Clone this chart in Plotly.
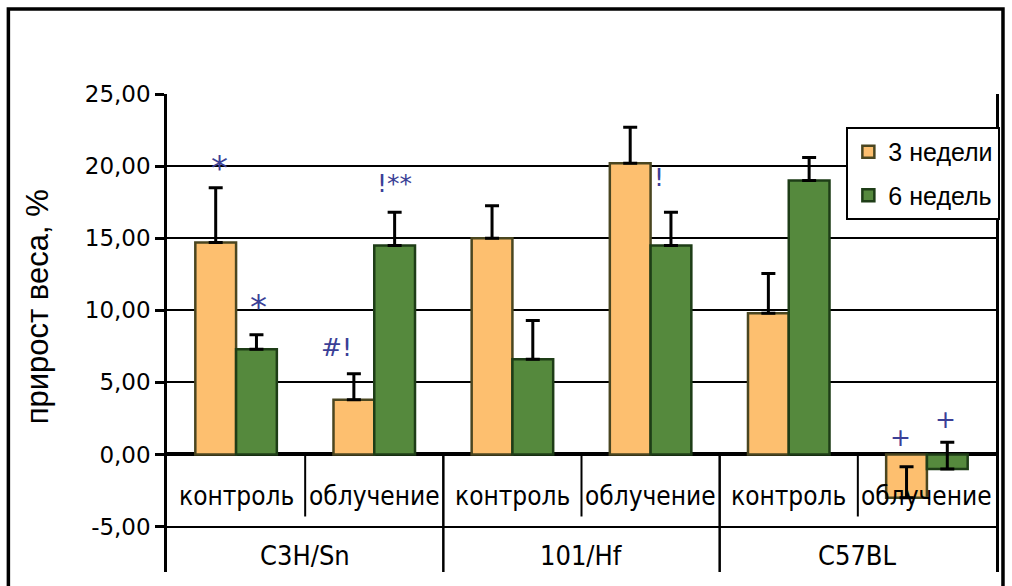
import plotly.graph_objects as go

# ---- data ----
groups = ["C3H/Sn", "101/Hf", "C57BL"]
treatments = ["контроль", "облучение"]
series_names = ["3 недели", "6 недель"]
weeks3 = [14.7, 3.8, 15.0, 20.2, 9.8, -3.0]
weeks3_err = [3.8, 1.8, 2.25, 2.5, 2.75, 2.15]
weeks6 = [7.3, 14.5, 6.6, 14.5, 19.0, -1.0]
weeks6_err = [1.0, 2.3, 2.7, 2.3, 1.6, 1.85]
y_ticks = [-5, 0, 5, 10, 15, 20, 25]
y_ticklabels = ["-5,00", "0,00", "5,00", "10,00", "15,00", "20,00", "25,00"]
y_title = "прирост веса, %"
# significance marks: (text, category index, series index, height)
sig_text = ["*", "*", "#!", "!**", "!", "+", "+"]
sig_cat = [0, 0, 1, 1, 3, 5, 5]
sig_series = [0, 1, 0, 1, 1, 0, 1]
sig_y = [20.2, 10.6, 7.4, 18.8, 19.2, 1.2, 2.4]

cats = [f"{g} {t}" for g in groups for t in treatments]

# ---- styles ----
ORANGE = "#FDBF6F"
ORANGE_LINE = "#4A4620"
GREEN = "#55893D"
GREEN_LINE = "#1E3D17"
MARK_COLOR = "#3B3F96"
CAT_FONT = "DejaVu Sans Condensed, Liberation Sans, Arial"
sig_dx = [-17, 22, -38, 20, 8, -26, 19]
sig_size = [34, 34, 25, 25, 25, 25, 25]
sig_dy = [-5, -5, 0, 0, 0, 0, 0]

fig = go.Figure()
for name, vals, errs, fc, lc, grp in [
    (series_names[0], weeks3, weeks3_err, ORANGE, ORANGE_LINE, "a"),
    (series_names[1], weeks6, weeks6_err, GREEN, GREEN_LINE, "b"),
]:
    fig.add_trace(go.Bar(
        x=cats, y=vals, name=name, legendgroup=grp,
        marker=dict(color=fc, line=dict(color=lc, width=2.5)),
        error_y=dict(type="data", array=errs, arrayminus=[0] * len(errs),
                     symmetric=False, color="black", thickness=3, width=7),
    ))

Y_MIN, Y_MAX = -8.15, 25
fig.update_layout(
    width=1012, height=586,
    margin=dict(l=167, r=14, t=94, b=14),
    paper_bgcolor="white", plot_bgcolor="white",
    barmode="group", bargap=0.41, bargroupgap=0,
    showlegend=True,
    legend=dict(
        x=0.8195, y=0.931, xanchor="left", yanchor="top",
        bordercolor="black", borderwidth=2, bgcolor="white",
        font=dict(family="Liberation Sans, Arial", size=25, color="black"),
        tracegroupgap=8, traceorder="grouped", itemwidth=30,
    ),
    xaxis=dict(showticklabels=False, showgrid=False, showline=False,
               zeroline=False, ticks="", categoryorder="array",
               categoryarray=cats, range=[-0.5, 5.5]),
    yaxis=dict(range=[Y_MIN, Y_MAX], tickvals=y_ticks, ticktext=y_ticklabels,
               showgrid=True, gridcolor="black", gridwidth=2,
               zeroline=True, zerolinecolor="black", zerolinewidth=3.5,
               showline=True, linecolor="black", linewidth=2.5, mirror=True,
               ticks="outside", ticklen=9, tickwidth=2.5, tickcolor="black",
               tickfont=dict(family="DejaVu Sans", size=23, color="black")),
)

pw, ph = 831, 478
annotations = [dict(x=(37 - 167) / pw, y=(572 - 307) / ph, xref="paper", yref="paper",
                    text=y_title, textangle=-90, showarrow=False,
                    xanchor="center", yanchor="middle",
                    font=dict(family="Liberation Sans, Arial", size=31, color="black"))]
# first-level category labels
for i, c in enumerate(cats):
    annotations.append(dict(x=c, y=-2.9, xref="x", yref="y", text=treatments[i % 2],
                            showarrow=False, yanchor="middle",
                            font=dict(family=CAT_FONT, size=26, color="black")))
# group labels
for gi, g in enumerate(groups):
    annotations.append(dict(x=2 * gi + 0.5, y=-7.0, xref="x", yref="y", text=g,
                            showarrow=False, yanchor="middle",
                            font=dict(family=CAT_FONT, size=27, color="black")))
# significance marks
for t, ci, si, yv, dx, sz, dy in zip(sig_text, sig_cat, sig_series, sig_y,
                                      sig_dx, sig_size, sig_dy):
    annotations.append(dict(x=cats[ci], y=yv, xref="x", yref="y", text=t,
                            showarrow=False, yanchor="middle", xshift=dx, yshift=dy,
                            font=dict(family="DejaVu Sans", size=sz,
                                      color=MARK_COLOR)))
fig.update_layout(annotations=annotations)

shapes = []
# sub-category separators
for xs in [0.5, 2.5, 4.5]:
    shapes.append(dict(type="line", xref="x", yref="y", x0=xs, x1=xs, y0=0, y1=-4.3,
                       line=dict(color="black", width=2)))
# group separators
for xs in [1.5, 3.5]:
    shapes.append(dict(type="line", xref="x", yref="y", x0=xs, x1=xs, y0=0, y1=Y_MIN,
                       line=dict(color="black", width=2.5)))
# outer frame
shapes.append(dict(type="rect", xref="paper", yref="paper",
                   x0=(8 - 167) / pw, x1=(1005 - 167) / pw,
                   y0=(572 - 620) / ph, y1=(572 - 9) / ph,
                   line=dict(color="black", width=3.5), layer="above"))
fig.update_layout(shapes=shapes)

fig.write_html("out.html")
